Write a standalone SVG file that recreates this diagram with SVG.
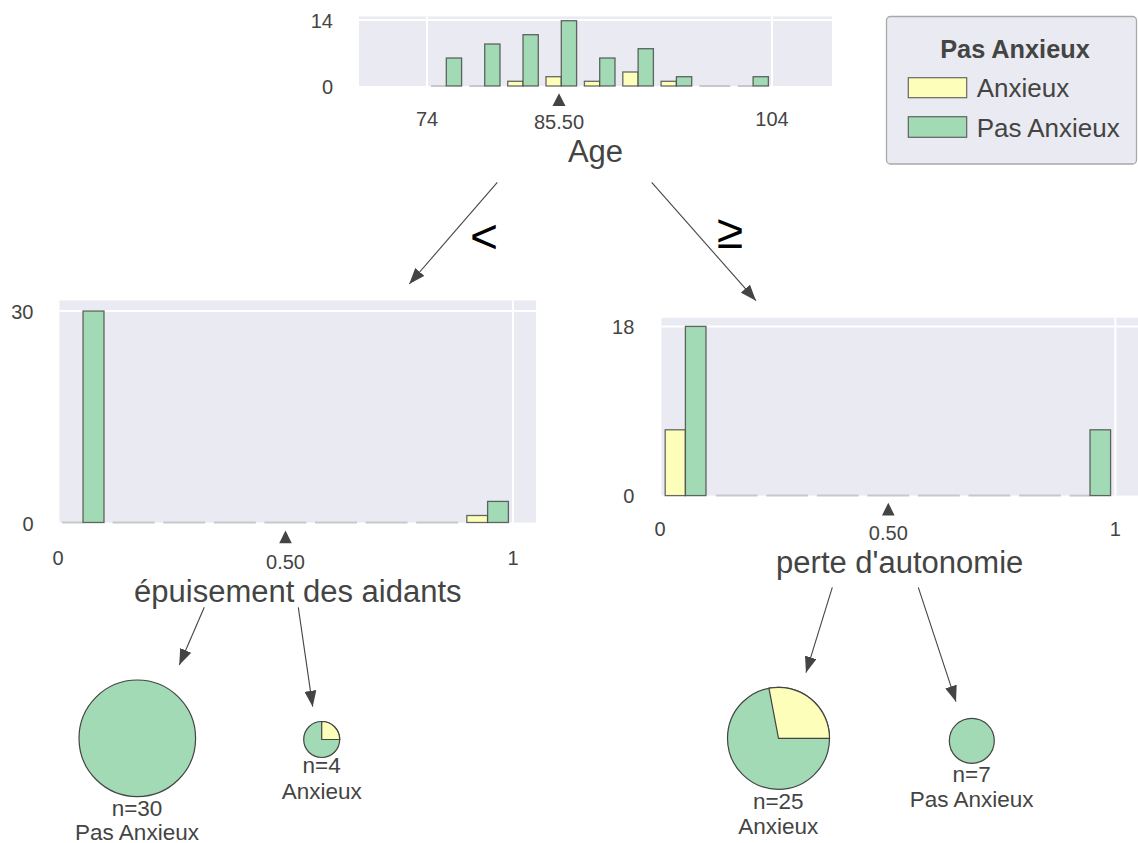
<svg xmlns="http://www.w3.org/2000/svg" width="1138" height="843" viewBox="0 0 1138 843">
<defs>
<style>
.bg{fill:#eaeaf2}
.grid{stroke:#ffffff;stroke-width:2}
.zero{stroke:#c8c8cc;stroke-width:2}
.by{fill:#fefebb;stroke:#444443;stroke-width:1.3;stroke-opacity:0.8}
.bgr{fill:#a1dab4;stroke:#444443;stroke-width:1.3;stroke-opacity:0.8}
.t{font-family:"Liberation Sans",Arial,sans-serif;fill:#444443}
.tick{font-size:20px}
.ax{font-size:31px;text-anchor:middle}
.leaf{font-size:22.5px;text-anchor:middle}
.lg{font-size:26px}
.tri{fill:#444443}
.edge{stroke:#444443;stroke-width:1.1;fill:none;marker-end:url(#ah)}
.op{font-family:"Liberation Sans",Arial,sans-serif;fill:#000;font-size:48px}
.pie{stroke:#444443;stroke-width:1.2}
</style>
<marker id="ah" markerUnits="userSpaceOnUse" markerWidth="16" markerHeight="12" viewBox="0 0 16 12" refX="16" refY="6" orient="auto">
<path d="M0,0 L16,6 L0,12 z" fill="#444443"/>
</marker>
</defs>
<rect width="1138" height="843" fill="#ffffff"/>

<!-- Root node: Age -->
<g id="node-age">
<rect class="bg" x="359" y="16.5" width="473" height="69.5"/>
<line class="grid" x1="359" y1="20" x2="832" y2="20"/>
<line class="grid" x1="427" y1="16.5" x2="427" y2="86"/>
<line class="grid" x1="772" y1="16.5" x2="772" y2="86"/>
<line class="zero" x1="431" y1="86" x2="446.3" y2="86"/>
<line class="zero" x1="469.4" y1="86" x2="484.7" y2="86"/>
<line class="zero" x1="699.5" y1="86" x2="730.2" y2="86"/>
<line class="zero" x1="737.8" y1="86" x2="753.1" y2="86"/>
<rect class="bgr" x="446.3" y="58" width="15.3" height="28"/>
<rect class="bgr" x="484.7" y="44" width="15.3" height="42"/>
<rect class="by" x="507.7" y="81.3" width="15.3" height="4.7"/>
<rect class="bgr" x="523" y="34.7" width="15.3" height="51.3"/>
<rect class="by" x="546" y="76.7" width="15.3" height="9.3"/>
<rect class="bgr" x="561.3" y="20.7" width="15.3" height="65.3"/>
<rect class="by" x="584.4" y="81.3" width="15.3" height="4.7"/>
<rect class="bgr" x="599.7" y="58" width="15.3" height="28"/>
<rect class="by" x="622.8" y="72" width="15.3" height="14"/>
<rect class="bgr" x="638.1" y="48.7" width="15.3" height="37.3"/>
<rect class="by" x="661.1" y="81.3" width="15.3" height="4.7"/>
<rect class="bgr" x="676.4" y="76.7" width="15.3" height="9.3"/>
<rect class="bgr" x="753.1" y="76.7" width="15.3" height="9.3"/>
<text class="t tick" x="333" y="27.5" text-anchor="end">14</text>
<text class="t tick" x="333" y="93.5" text-anchor="end">0</text>
<text class="t tick" x="427" y="125.5" text-anchor="middle">74</text>
<text class="t tick" x="559" y="129" text-anchor="middle">85.50</text>
<text class="t tick" x="772" y="125.5" text-anchor="middle">104</text>
<path class="tri" d="M559,93.3 L565.5,106 L552.5,106 Z"/>
<text class="t ax" x="595.5" y="161.7">Age</text>
</g>

<!-- Legend -->
<g id="legend">
<rect x="886.5" y="16.5" width="250" height="147.5" rx="4" fill="#eaeaf2" stroke="#a8a8a8" stroke-width="1.3"/>
<text class="t" x="1015" y="58.3" text-anchor="middle" font-weight="bold" font-size="25.3px">Pas Anxieux</text>
<rect x="908.3" y="77.7" width="58.4" height="20" fill="#fefebb" stroke="#444443" stroke-width="1.2" stroke-opacity="0.8"/>
<text class="t lg" x="976.7" y="97.3">Anxieux</text>
<rect x="908.3" y="116.7" width="58.4" height="20.6" fill="#a1dab4" stroke="#444443" stroke-width="1.2" stroke-opacity="0.8"/>
<text class="t lg" x="976.7" y="137.3">Pas Anxieux</text>
</g>

<!-- Left node: epuisement des aidants -->
<g id="node-epuisement">
<rect class="bg" x="59.5" y="300.5" width="476.5" height="222"/>
<line class="grid" x1="59.5" y1="311" x2="536" y2="311"/>
<line class="grid" x1="513" y1="300.5" x2="513" y2="522.5"/>
<line class="zero" x1="62" y1="522.5" x2="83" y2="522.5"/>
<line class="zero" x1="112.6" y1="522.5" x2="154.6" y2="522.5"/>
<line class="zero" x1="163.2" y1="522.5" x2="205.2" y2="522.5"/>
<line class="zero" x1="213.8" y1="522.5" x2="255.8" y2="522.5"/>
<line class="zero" x1="264.4" y1="522.5" x2="306.4" y2="522.5"/>
<line class="zero" x1="315" y1="522.5" x2="357" y2="522.5"/>
<line class="zero" x1="365.6" y1="522.5" x2="407.6" y2="522.5"/>
<line class="zero" x1="416.2" y1="522.5" x2="458.2" y2="522.5"/>
<rect class="bgr" x="83" y="311" width="21" height="211.5"/>
<rect class="by" x="466.8" y="515.5" width="20.8" height="7"/>
<rect class="bgr" x="487.6" y="501.4" width="20.8" height="21.1"/>
<text class="t tick" x="33.5" y="319" text-anchor="end">30</text>
<text class="t tick" x="33.5" y="531" text-anchor="end">0</text>
<text class="t tick" x="58" y="565.3" text-anchor="middle">0</text>
<text class="t tick" x="285.5" y="568.8" text-anchor="middle">0.50</text>
<text class="t tick" x="513" y="565.3" text-anchor="middle">1</text>
<path class="tri" d="M285.5,530.5 L291.8,543.3 L279.2,543.3 Z"/>
<text class="t ax" x="297.8" y="602">épuisement des aidants</text>
</g>

<!-- Right node: perte d'autonomie -->
<g id="node-perte">
<rect class="bg" x="661.5" y="317.8" width="476.5" height="177.8"/>
<line class="grid" x1="661.5" y1="326.4" x2="1138" y2="326.4"/>
<line class="grid" x1="1115.4" y1="317.8" x2="1115.4" y2="495.6"/>
<line class="zero" x1="715.8" y1="495.6" x2="757.6" y2="495.6"/>
<line class="zero" x1="766.3" y1="495.6" x2="808.1" y2="495.6"/>
<line class="zero" x1="816.9" y1="495.6" x2="858.7" y2="495.6"/>
<line class="zero" x1="867.4" y1="495.6" x2="909.2" y2="495.6"/>
<line class="zero" x1="918" y1="495.6" x2="959.8" y2="495.6"/>
<line class="zero" x1="968.5" y1="495.6" x2="1010.3" y2="495.6"/>
<line class="zero" x1="1019.1" y1="495.6" x2="1060.9" y2="495.6"/>
<line class="zero" x1="1069.6" y1="495.6" x2="1090" y2="495.6"/>
<rect class="by" x="665.2" y="429.8" width="20.2" height="65.8"/>
<rect class="bgr" x="685.4" y="326.4" width="20.6" height="169.2"/>
<rect class="bgr" x="1090" y="429.8" width="20.6" height="65.8"/>
<text class="t tick" x="634.3" y="334.3" text-anchor="end">18</text>
<text class="t tick" x="634.3" y="503.2" text-anchor="end">0</text>
<text class="t tick" x="660" y="536" text-anchor="middle">0</text>
<text class="t tick" x="888.3" y="539.5" text-anchor="middle">0.50</text>
<text class="t tick" x="1115.4" y="536" text-anchor="middle">1</text>
<path class="tri" d="M888.3,502.7 L894.6,515.5 L882,515.5 Z"/>
<text class="t ax" x="899.7" y="572.8">perte d'autonomie</text>
</g>

<!-- Leaves -->
<g id="leaf-n30">
<circle class="pie" cx="137.3" cy="738.3" r="58.3" fill="#a1dab4"/>
<text class="t leaf" x="137" y="815.5">n=30</text>
<text class="t leaf" x="137" y="840">Pas Anxieux</text>
</g>
<g id="leaf-n4">
<circle class="pie" cx="321.7" cy="739.5" r="18" fill="#a1dab4"/>
<path class="pie" d="M321.7,739.5 L339.7,739.5 A18,18 0 0 0 321.7,721.5 Z" fill="#fefebb"/>
<text class="t leaf" x="321.7" y="773.3">n=4</text>
<text class="t leaf" x="321.7" y="799">Anxieux</text>
</g>
<g id="leaf-n25">
<circle class="pie" cx="778.5" cy="738.3" r="51" fill="#a1dab4"/>
<path class="pie" d="M778.5,738.3 L829.5,738.3 A51,51 0 0 0 768.94,688.2 Z" fill="#fefebb"/>
<text class="t leaf" x="778.3" y="808.8">n=25</text>
<text class="t leaf" x="778.3" y="833.5">Anxieux</text>
</g>
<g id="leaf-n7">
<circle class="pie" cx="971.8" cy="740.8" r="22.5" fill="#a1dab4"/>
<text class="t leaf" x="971.7" y="782.3">n=7</text>
<text class="t leaf" x="971.7" y="806.7">Pas Anxieux</text>
</g>

<!-- Connectors -->
<g id="connectors">
<line class="edge" x1="497.3" y1="182.3" x2="409.3" y2="284"/>
<line class="edge" x1="651.7" y1="182.3" x2="756" y2="300.7"/>
<line class="edge" x1="204.3" y1="607.3" x2="179.3" y2="665"/>
<line class="edge" x1="298.3" y1="607.3" x2="312.7" y2="706.7"/>
<line class="edge" x1="832.3" y1="587.3" x2="806" y2="672.7"/>
<line class="edge" x1="918.3" y1="587.3" x2="956" y2="701.7"/>
<text class="op" x="470" y="252.5">&lt;</text>
<text class="op" x="730" y="247.7" text-anchor="middle">≥</text>
</g>
</svg>
